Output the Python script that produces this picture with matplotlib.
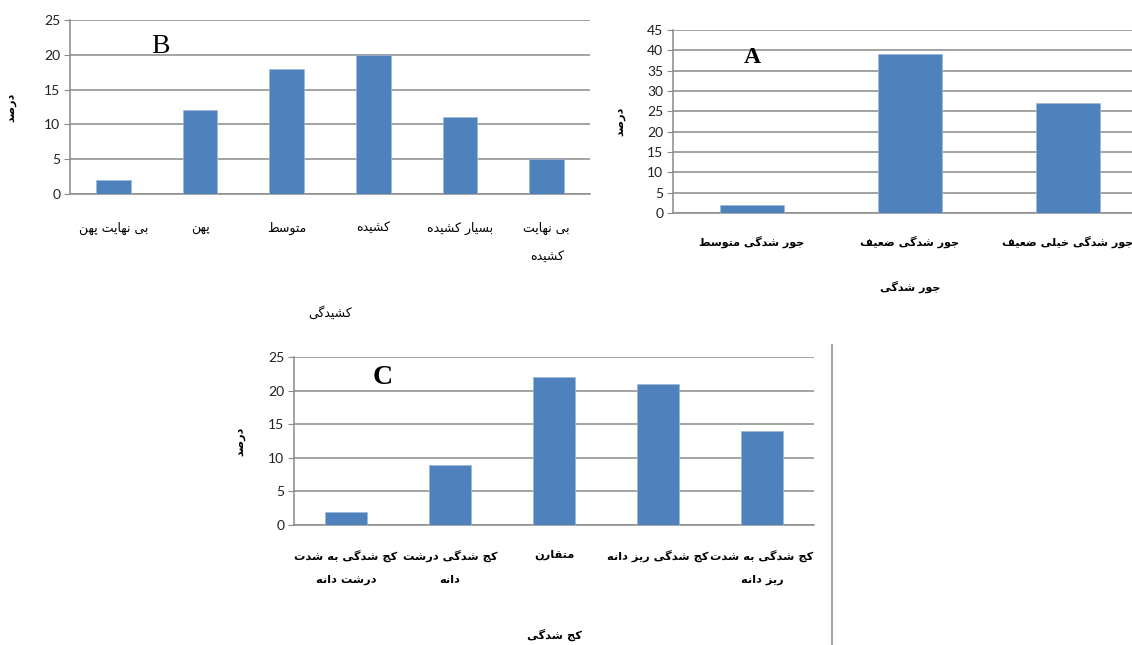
import matplotlib
matplotlib.use("Agg")
import matplotlib.pyplot as plt
from matplotlib.lines import Line2D

# percentages per class
stretch_labels = ["بی نهایت پهن", "پهن", "متوسط", "کشیده", "بسیار کشیده", "بی نهایت\nکشیده"]
stretch_pct = [2, 12, 18, 20, 11, 5]

sorting_labels = ["جور شدگی متوسط", "جور شدگی ضعیف", "جور شدگی خیلی ضعیف"]
sorting_pct = [2, 39, 27]

skew_labels = ["کج شدگی به شدت\nدرشت دانه", "کج شدگی درشت\nدانه", "متقارن",
               "کج شدگی ریز دانه", "کج شدگی به شدت\nریز دانه"]
skew_pct = [2, 9, 22, 21, 14]

# contextual forms (isolated, final, initial, medial); two-entry rows only join to the right
FORMS = {
    "ا": "\uFE8D\uFE8E",
    "ب": "\uFE8F\uFE90\uFE91\uFE92",
    "پ": "\uFB56\uFB57\uFB58\uFB59",
    "ت": "\uFE95\uFE96\uFE97\uFE98",
    "ج": "\uFE9D\uFE9E\uFE9F\uFEA0",
    "خ": "\uFEA5\uFEA6\uFEA7\uFEA8",
    "د": "\uFEA9\uFEAA",
    "ر": "\uFEAD\uFEAE",
    "ز": "\uFEAF\uFEB0",
    "س": "\uFEB1\uFEB2\uFEB3\uFEB4",
    "ش": "\uFEB5\uFEB6\uFEB7\uFEB8",
    "ص": "\uFEB9\uFEBA\uFEBB\uFEBC",
    "ض": "\uFEBD\uFEBE\uFEBF\uFEC0",
    "ط": "\uFEC1\uFEC2\uFEC3\uFEC4",
    "ع": "\uFEC9\uFECA\uFECB\uFECC",
    "ف": "\uFED1\uFED2\uFED3\uFED4",
    "ق": "\uFED5\uFED6\uFED7\uFED8",
    "ک": "\uFB8E\uFB8F\uFB90\uFB91",
    "گ": "\uFB92\uFB93\uFB94\uFB95",
    "ل": "\uFEDD\uFEDE\uFEDF\uFEE0",
    "م": "\uFEE1\uFEE2\uFEE3\uFEE4",
    "ن": "\uFEE5\uFEE6\uFEE7\uFEE8",
    "و": "\uFEED\uFEEE",
    "ه": "\uFEE9\uFEEA\uFEEB\uFEEC",
    "ی": "\uFBFC\uFBFD\uFBFE\uFBFF",
}


def shape_line(s):
    out = []
    for i, ch in enumerate(s):
        f = FORMS.get(ch)
        if f is None:
            out.append(ch)
            continue
        prev = s[i - 1] if i > 0 else ""
        nxt = s[i + 1] if i + 1 < len(s) else ""
        join_prev = prev in FORMS and len(FORMS[prev]) == 4
        join_next = len(f) == 4 and nxt in FORMS
        if join_prev and join_next:
            out.append(f[3])
        elif join_prev:
            out.append(f[1])
        elif join_next:
            out.append(f[2])
        else:
            out.append(f[0])
    return "".join(reversed(out))


def fa(text):
    return "\n".join(shape_line(l) for l in text.split("\n"))


BAR = "#4F81BD"
GRID = "#8A8A8A"
FA_FONT = ["DejaVu Sans"]


def bar_panel(ax, labels, values, ymax, letter, letter_pos, letter_kw,
              xlabel, xlabel_y, ylabel_x, lab_size, lab_weight, pad, spacing):
    x = range(len(values))
    ax.bar(x, values, width=0.4, color=BAR, edgecolor="#9DB7DA", linewidth=0.5, zorder=3)
    ax.set_xlim(-0.5, len(values) - 0.5)
    ax.set_ylim(0, ymax)
    ax.set_yticks(range(0, ymax + 1, 5))
    ax.yaxis.grid(True, color=GRID, linewidth=1.1)
    ax.set_axisbelow(True)
    for side in ("top", "right"):
        ax.spines[side].set_visible(False)
    for side in ("left", "bottom"):
        ax.spines[side].set_color(GRID)
        ax.spines[side].set_linewidth(1.1)
    ax.tick_params(axis="y", length=4, color=GRID, labelsize=10, labelcolor="#222222", pad=3)
    for t in ax.get_yticklabels():
        t.set_fontfamily("Lato")
    ax.set_xticks(list(x))
    ax.set_xticklabels([fa(l) for l in labels], fontsize=lab_size, fontweight=lab_weight,
                       family=FA_FONT, linespacing=spacing)
    ax.tick_params(axis="x", length=0, pad=pad)
    ax.text(0.5, xlabel_y, fa(xlabel), transform=ax.transAxes, ha="center", va="center",
            fontsize=lab_size, fontweight=lab_weight, family=FA_FONT)
    ax.text(ylabel_x, 0.5, fa("درصد"), transform=ax.transAxes, ha="center", va="center",
            rotation=90, fontsize=8, fontweight="bold", family=FA_FONT)
    ax.text(letter_pos[0], letter_pos[1], letter, transform=ax.transAxes, ha="center",
            va="center", family="Liberation Serif", **letter_kw)


fig = plt.figure(figsize=(11.32, 6.45), dpi=100)
W, H = 1132, 645


def box(x0, x1, y0, y1):
    return [x0 / W, 1 - y1 / H, (x1 - x0) / W, (y1 - y0) / H]


ax_b = fig.add_axes(box(70, 590, 20, 194))
bar_panel(ax_b, stretch_labels, stretch_pct, 25, "B", (0.173, 0.845),
          dict(fontsize=20), "کشیدگی", -0.684, -0.112, 9, "normal", 20, 2.6)

ax_a = fig.add_axes(box(673, 1147, 30, 213))
bar_panel(ax_a, sorting_labels, sorting_pct, 45, "A", (0.167, 0.847),
          dict(fontsize=17, fontweight="bold"), "جور شدگی", -0.404, -0.112, 8, "bold", 16, 2.0)

ax_c = fig.add_axes(box(294, 814, 357, 525))
bar_panel(ax_c, skew_labels, skew_pct, 25, "C", (0.171, 0.875),
          dict(fontsize=20, fontweight="bold"), "کج شدگی", -0.655, -0.104, 8.2, "bold", 18, 2.6)

# page rule beside the lower chart
fig.add_artist(Line2D([832 / W, 832 / W], [0, 1 - 345 / H], color="#A8A8A8", linewidth=1.6))

fig.savefig("out.png", dpi=100, facecolor="white")
